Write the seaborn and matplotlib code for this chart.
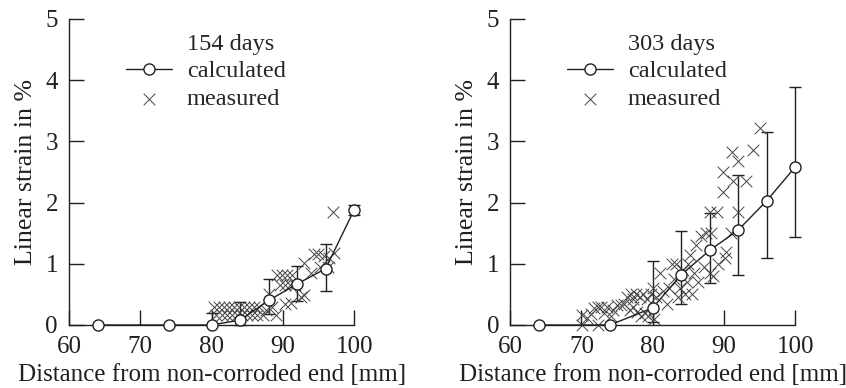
"""
Linear strain along the bar after 154 and 303 days: calculated vs measured.
"""

import matplotlib
matplotlib.use("Agg")
import matplotlib.pyplot as plt
import seaborn as sns

sns.set_style("ticks")
plt.rcParams['font.family'] = ['Liberation Serif', 'DejaVu Serif']

INK = '#231f20'

# --- 154 days -------------------------------------------------------------
calc_x_154 = [64, 74, 80, 84, 88, 92, 96, 100]
calc_y_154 = [0, 0, 0, 0.08, 0.40, 0.67, 0.92, 1.88]
err_lo_154 = [0, 0, 0.00, 0.08, 0.22, 0.28, 0.37, 0.08]
err_hi_154 = [0, 0, 0.20, 0.30, 0.35, 0.29, 0.40, 0.08]

meas_x_154 = [80.3, 81.0, 81.7, 82.4, 83.1, 83.8, 84.5, 85.2, 86.0, 86.7,
              80.6, 81.4, 82.1, 82.8, 83.5, 84.3, 85.0, 85.7, 86.4, 87.2,
              87.6, 88.1, 88.5, 89.0, 89.2, 89.9, 90.6, 91.3, 89.6, 90.3,
              91.0, 91.7, 90.3, 91.2, 92.5, 93.0, 92.9, 94.3, 95.0, 95.8,
              96.5, 97.2, 94.0, 95.2, 96.3, 97.1]
meas_y_154 = [0.30, 0.30, 0.30, 0.30, 0.30, 0.30, 0.30, 0.30, 0.30, 0.30,
              0.17, 0.17, 0.17, 0.17, 0.17, 0.17, 0.17, 0.17, 0.17, 0.17,
              0.25, 0.50, 0.30, 0.16, 0.82, 0.82, 0.82, 0.82, 0.65, 0.65,
              0.65, 0.65, 0.34, 0.36, 0.45, 0.49, 1.01, 1.16, 1.16, 1.12,
              1.10, 1.18, 0.85, 0.95, 0.95, 1.85]

# --- 303 days -------------------------------------------------------------
calc_x_303 = [64, 74, 80, 84, 88, 92, 96, 100]
calc_y_303 = [0, 0, 0.28, 0.82, 1.22, 1.55, 2.03, 2.58]
err_lo_303 = [0, 0, 0.23, 0.48, 0.53, 0.73, 0.93, 1.14]
err_hi_303 = [0, 0, 0.76, 0.72, 0.61, 0.90, 1.12, 1.30]

meas_x_303 = [70.1, 70.1, 70.8, 71.3, 71.8, 72.3, 72.3, 72.8, 73.2, 73.6,
              74.1, 74.5, 75.0, 75.5, 76.0, 76.4, 76.9, 77.3, 77.7, 78.2,
              78.7, 79.2, 79.7, 76.8, 77.3, 77.8, 78.4, 78.9, 79.4, 80.0,
              80.2, 80.5, 81.0, 81.5, 82.0, 82.3, 82.7, 83.0, 83.3, 83.5,
              83.8, 84.2, 84.5, 84.8, 85.0, 85.3, 85.5, 85.8, 86.1, 86.4,
              86.8, 87.2, 87.5, 88.0, 88.2, 88.5, 88.0, 89.0, 89.2, 90.2,
              89.9, 89.9, 91.2, 93.1, 92.0, 91.1, 94.1, 95.1, 92.0, 91.0,
              90.3]
meas_y_303 = [0.16, 0.00, 0.12, 0.18, 0.27, 0.30, 0.00, 0.30, 0.20, 0.30,
              0.15, 0.25, 0.33, 0.33, 0.35, 0.45, 0.50, 0.43, 0.50, 0.45,
              0.50, 0.42, 0.50, 0.25, 0.30, 0.22, 0.15, 0.20, 0.15, 0.60,
              0.10, 0.45, 0.85, 0.55, 0.35, 0.60, 1.00, 0.75, 1.00, 0.45,
              0.60, 0.90, 0.50, 0.70, 1.00, 1.15, 0.50, 0.85, 1.30, 0.70,
              1.45, 0.95, 1.50, 0.85, 1.50, 0.80, 1.85, 1.85, 1.00, 1.10,
              2.17, 2.50, 2.35, 2.35, 2.68, 2.83, 2.86, 3.22, 1.85, 1.50,
              1.20]

panels = [
    ('154 days', calc_x_154, calc_y_154, err_lo_154, err_hi_154, meas_x_154, meas_y_154),
    ('303 days', calc_x_303, calc_y_303, err_lo_303, err_hi_303, meas_x_303, meas_y_303),
]

fig = plt.figure(figsize=(8.46, 3.88), dpi=100)
axes = [fig.add_axes([0.0816, 0.1624, 0.337, 0.789]),
        fig.add_axes([0.603, 0.1624, 0.337, 0.789])]

for ax, (title, cx, cy, elo, ehi, mx, my) in zip(axes, panels):
    ax.errorbar(cx, cy, yerr=[elo, ehi], fmt='none', ecolor=INK,
                elinewidth=1.0, capsize=4, capthick=1.0, clip_on=False)
    sns.scatterplot(x=mx, y=my, ax=ax, marker='x', s=70, color='#444444',
                    linewidth=0.7, label='measured', clip_on=False, zorder=3)
    sns.lineplot(x=cx, y=cy, ax=ax, color=INK, lw=1.0, marker='o', ms=8,
                 mfc='white', mec=INK, mew=1.0, label='calculated',
                 clip_on=False, zorder=4)
    # blank entry used as a heading line in the legend
    ax.plot([], [], ' ', label=title)

    ax.set_xlim(60, 100)
    ax.set_ylim(0, 5)
    ax.set_xticks([60, 70, 80, 90, 100])
    ax.set_yticks([0, 1, 2, 3, 4, 5])
    sns.despine(ax=ax)
    for s in ['left', 'bottom']:
        ax.spines[s].set_linewidth(1.0)
        ax.spines[s].set_color(INK)
    ax.tick_params(direction='in', length=11, width=1.0, color=INK,
                   labelsize=18, labelcolor=INK)
    ax.tick_params(axis='x', pad=8)
    ax.tick_params(axis='y', pad=8)
    ax.set_xlabel('Distance from non-corroded end [mm]', fontsize=18,
                  color=INK, labelpad=4)
    ax.set_ylabel('Linear strain in %', fontsize=18.6, color=INK, labelpad=6)

    handles, labels = ax.get_legend_handles_labels()
    order = [labels.index(title), labels.index('calculated'), labels.index('measured')]
    ax.legend([handles[i] for i in order], [labels[i] for i in order],
              loc='upper left', bbox_to_anchor=(0.2, 0.955), frameon=False,
              fontsize=17.5, handlelength=1.9, handletextpad=0.6,
              labelspacing=0.24, borderpad=0, borderaxespad=0)

fig.savefig('out.png', dpi=100)
